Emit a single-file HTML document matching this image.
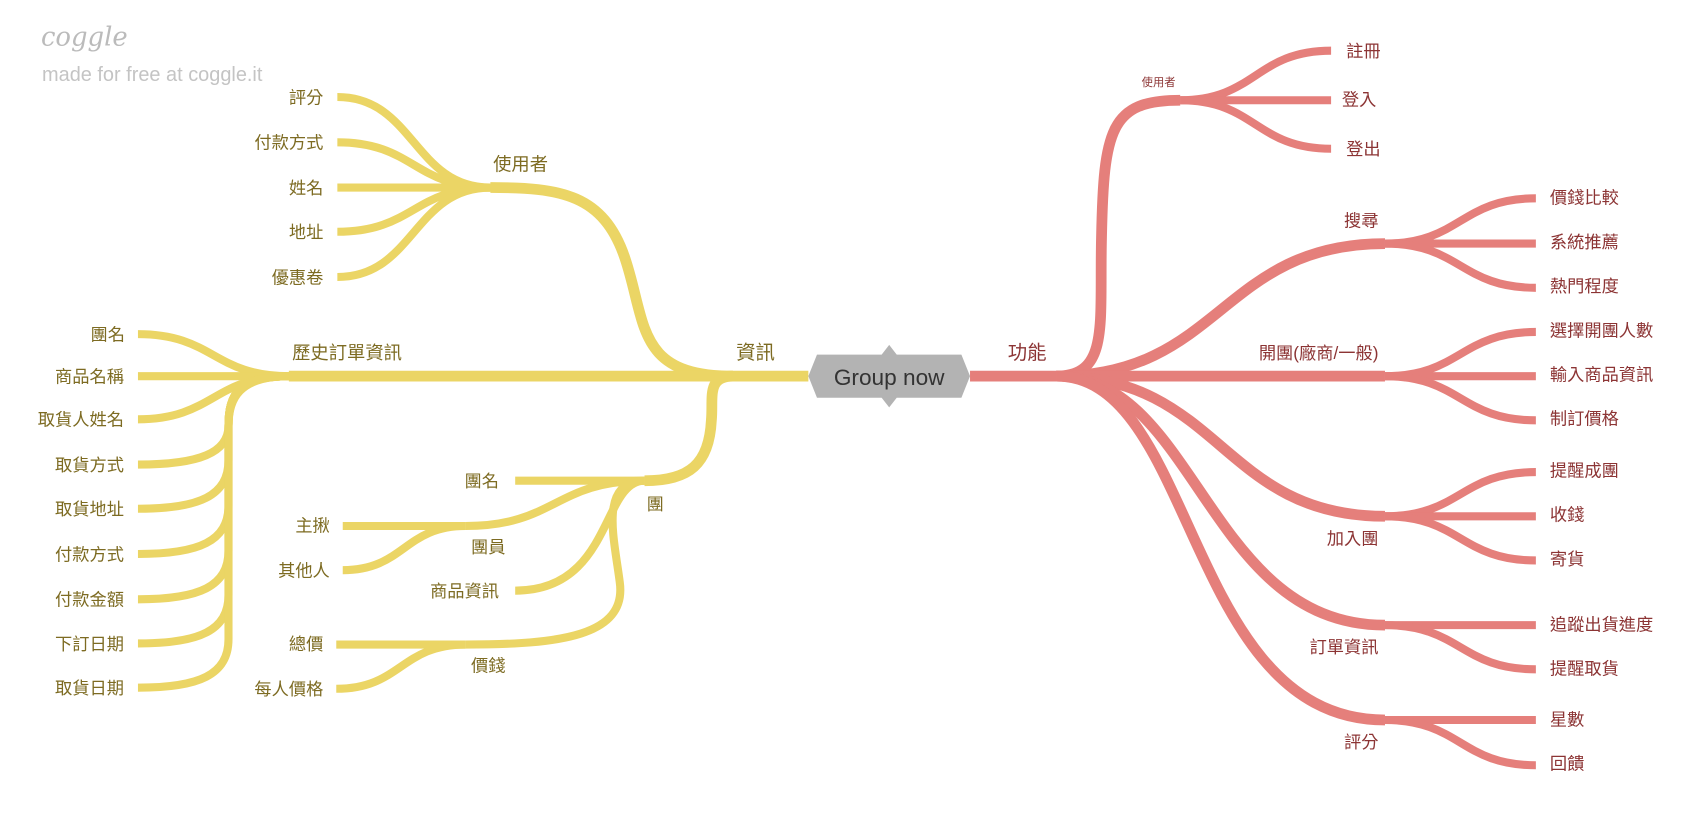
<!DOCTYPE html>
<html><head><meta charset="utf-8"><style>
html,body{margin:0;padding:0;background:#fff;width:1690px;height:824px;overflow:hidden}
svg{display:block}
.y{fill:none;stroke:#ebd565;stroke-linecap:butt}
.r{fill:none;stroke:#e57f7b;stroke-linecap:butt}
.ty{font-family:"Liberation Sans","Noto Sans CJK TC",sans-serif;font-size:16px;fill:#7d6b22}
.tr{font-family:"Liberation Sans","Noto Sans CJK TC",sans-serif;font-size:16px;fill:#8c3434}
</style></head><body>
<svg width="1690" height="824" viewBox="0 0 1568 764.5" preserveAspectRatio="none">
<text x="38" y="42" font-family="DejaVu Serif, serif" font-style="italic" font-size="24" fill="#bbb">coggle</text>
<text x="39" y="75" font-family="Liberation Sans, sans-serif" font-size="18.5" fill="#c4c4c4">made for free at coggle.it</text>

<g class="y" stroke-width="10">
<path d="M750 349 L680 349"/>
<path d="M680 349 C590 349 600 300 580 240 C560 180 520 174 455 174"/>
<path d="M680 349 L268 349"/>
<path d="M680 349 C655 349 662 370 660 390 C658 430 640 446 598 446"/>
</g>
<g class="y" stroke-width="7.5">
<path d="M455 174 C384 174 384 90 313 90"/>
<path d="M455 174 C384 174 384 132 313 132"/>
<path d="M455 174 L313 174"/>
<path d="M455 174 C384 174 384 215 313 215"/>
<path d="M455 174 C384 174 384 257 313 257"/>

<path d="M268 349 C198 349 198 310 128 310"/>
<path d="M268 349 L128 349"/>
<path d="M268 349 C198 349 198 389 128 389"/>
<path d="M268 349 C222 349 212 370 212 395 C212 420 185 431 128 431"/>
<path d="M268 349 C222 349 212 365 212 395 L212 427 C212 460 185 472 128 472"/>
<path d="M268 349 C222 349 212 365 212 395 L212 469 C212 502 185 514 128 514"/>
<path d="M268 349 C222 349 212 365 212 395 L212 511 C212 544 185 556 128 556"/>
<path d="M268 349 C222 349 212 365 212 395 L212 552 C212 585 185 597 128 597"/>
<path d="M268 349 C222 349 212 365 212 395 L212 593 C212 626 185 638 128 638"/>

<path d="M598 446 L478 446"/>
<path d="M598 446 C515 446 515 488 432 488"/>
<path d="M598 446 C558 446 568 548 478 548"/>
<path d="M598 446 C555 446 570 500 575 540 C582 590 520 598 432 598"/>
<path d="M432 488 L318 488"/>
<path d="M432 488 C375 488 375 529 318 529"/>
<path d="M432 598 L312 598"/>
<path d="M432 598 C372 598 372 639 312 639"/>
</g>

<g class="r" stroke-width="10">
<path d="M900 349 L980 349"/>
<path d="M980 349 C1030 349 1020 300 1022 220 C1024 120 1030 93 1095 93"/>
<path d="M980 349 C1133 349 1133 226 1285 226"/>
<path d="M980 349 L1285 349"/>
<path d="M980 349 C1133 349 1133 479 1285 479"/>
<path d="M980 349 C1110 349 1120 580 1285 580"/>
<path d="M980 349 C1110 349 1100 668 1285 668"/>
</g>
<g class="r" stroke-width="7.5">
<path d="M1095 93 C1165 93 1165 47 1235 47"/>
<path d="M1095 93 L1235 93"/>
<path d="M1095 93 C1165 93 1165 138 1235 138"/>
<path d="M1285 226 C1355 226 1355 184 1425 184"/>
<path d="M1285 226 L1425 226"/>
<path d="M1285 226 C1355 226 1355 267 1425 267"/>
<path d="M1285 349 C1355 349 1355 308 1425 308"/>
<path d="M1285 349 L1425 349"/>
<path d="M1285 349 C1355 349 1355 390 1425 390"/>
<path d="M1285 479 C1355 479 1355 438 1425 438"/>
<path d="M1285 479 L1425 479"/>
<path d="M1285 479 C1355 479 1355 520 1425 520"/>
<path d="M1285 580 L1425 580"/>
<path d="M1285 580 C1355 580 1355 621 1425 621"/>
<path d="M1285 668 L1425 668"/>
<path d="M1285 668 C1355 668 1355 710 1425 710"/>
</g>

<polygon points="758,329 818,329 825,320 832,329 892,329 900,349 892,369 832,369 825,378 818,369 758,369 750,349" fill="#b3b3b3"/>
<text x="825" y="357" text-anchor="middle" font-family="Liberation Sans, sans-serif" font-size="21" fill="#333">Group now</text>

<g class="ty">
<text x="701" y="333" text-anchor="middle" font-size="18">資訊</text>
<text x="483" y="158" text-anchor="middle" font-size="17">使用者</text>
<text x="322" y="333" text-anchor="middle" font-size="17">歷史訂單資訊</text>
<text x="608" y="473" text-anchor="middle">團</text>
<g text-anchor="end">
<text x="300" y="96">評分</text>
<text x="300" y="138">付款方式</text>
<text x="300" y="180">姓名</text>
<text x="300" y="221">地址</text>
<text x="300" y="263">優惠卷</text>
<text x="116" y="316">團名</text>
<text x="115" y="355">商品名稱</text>
<text x="115" y="395">取貨人姓名</text>
<text x="115" y="437">取貨方式</text>
<text x="115" y="478">取貨地址</text>
<text x="115" y="520">付款方式</text>
<text x="115" y="562">付款金額</text>
<text x="115" y="603">下訂日期</text>
<text x="115" y="644">取貨日期</text>
<text x="463" y="452">團名</text>
<text x="463" y="554">商品資訊</text>
<text x="306" y="493">主揪</text>
<text x="306" y="535">其他人</text>
<text x="300" y="603">總價</text>
<text x="300" y="645">每人價格</text>
</g>
<text x="453" y="513" text-anchor="middle">團員</text>
<text x="453" y="623" text-anchor="middle">價錢</text>
</g>

<g class="tr">
<text x="953" y="333" text-anchor="middle" font-size="18">功能</text>
<text x="1075" y="80" text-anchor="middle" font-size="10.5">使用者</text>
<text x="1249" y="53">註冊</text>
<text x="1245" y="98">登入</text>
<text x="1249" y="144">登出</text>
<g text-anchor="end">
<text x="1279" y="210">搜尋</text>
<text x="1279" y="333">開團(廠商/一般)</text>
<text x="1279" y="505">加入團</text>
<text x="1279" y="606">訂單資訊</text>
<text x="1279" y="694">評分</text>
</g>
<text x="1438" y="189">價錢比較</text>
<text x="1438" y="230">系統推薦</text>
<text x="1438" y="271">熱門程度</text>
<text x="1438" y="312">選擇開團人數</text>
<text x="1438" y="353">輸入商品資訊</text>
<text x="1438" y="394">制訂價格</text>
<text x="1438" y="442">提醒成團</text>
<text x="1438" y="483">收錢</text>
<text x="1438" y="524">寄貨</text>
<text x="1438" y="585">追蹤出貨進度</text>
<text x="1438" y="626">提醒取貨</text>
<text x="1438" y="673">星數</text>
<text x="1438" y="714">回饋</text>
</g>
</svg>
</body></html>
